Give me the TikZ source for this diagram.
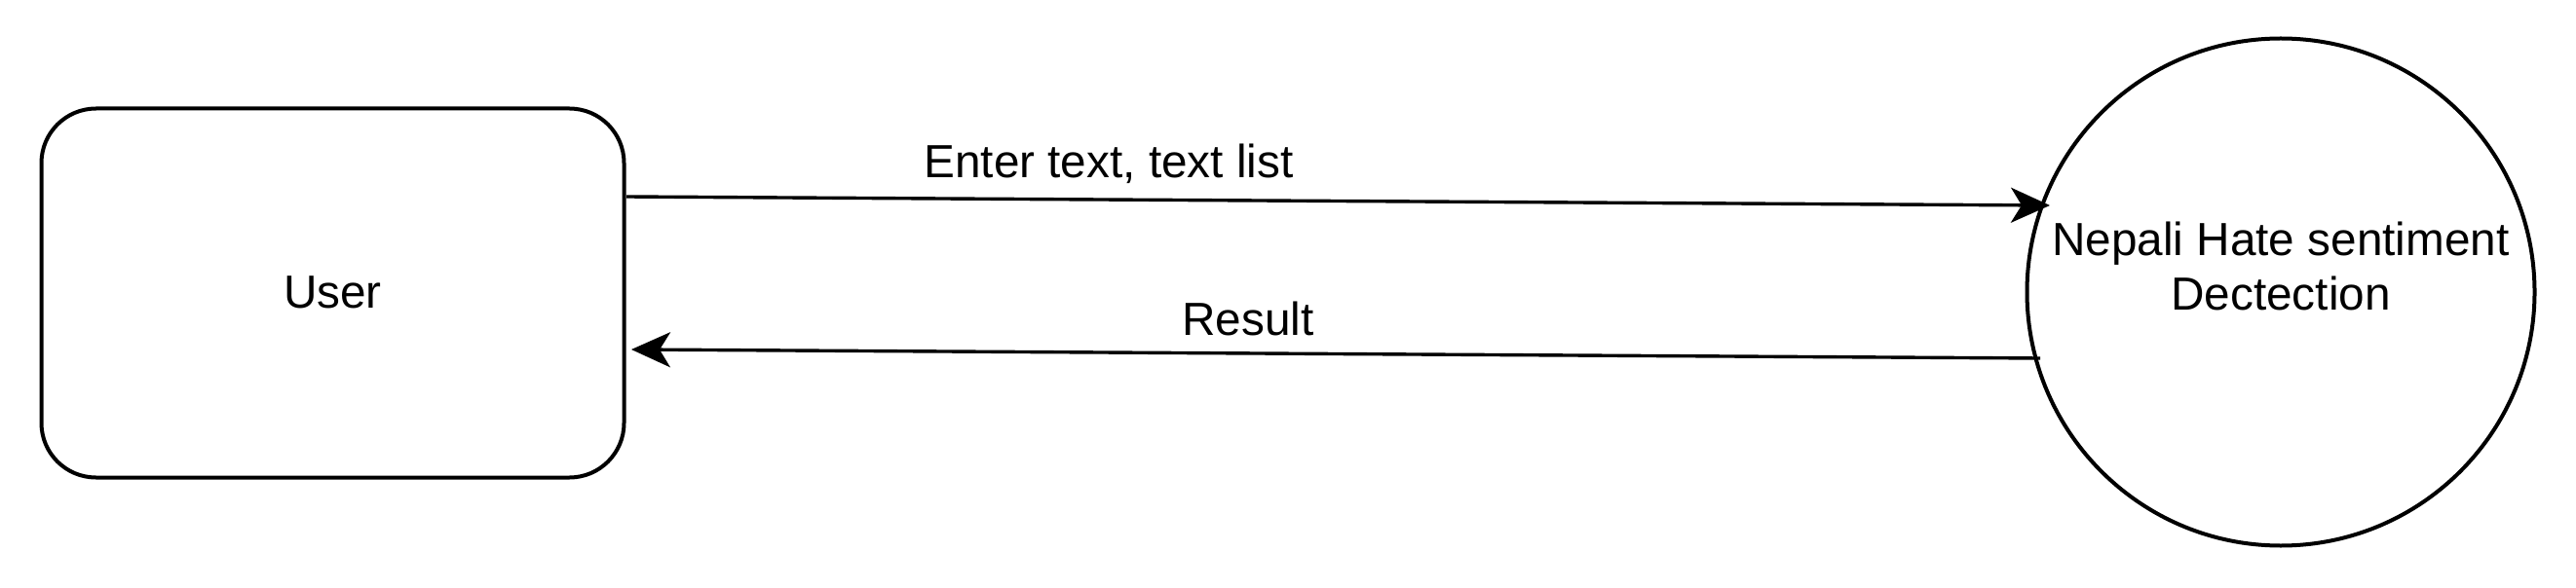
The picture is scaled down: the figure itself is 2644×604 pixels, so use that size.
\documentclass[tikz,border=0pt]{standalone}
\usepackage{fontspec}
\setmainfont{Liberation Sans}
\usetikzlibrary{arrows.meta}
\begin{document}
\begin{tikzpicture}[x=0.5pt,y=-0.5pt,
  every node/.style={font=\fontsize{23.85}{28}\selectfont, inner sep=0pt},
  userbox/.style={draw=black, line width=2pt, rounded corners=28pt, minimum width=299pt, minimum height=189.5pt, fill=white},
  procnode/.style={draw=black, line width=2pt, circle, minimum size=260.5pt},
  flow/.style={line width=1.7pt, -{Stealth[length=20pt,width=18pt,inset=5.5pt]}},
  lbl/.style={anchor=center, align=center}
]
\useasboundingbox (0,0) rectangle (2644,604);
\node[userbox] (user) at (341.5,301) {};
\node (usertxt) at (341.5,300) {User};
\node[procnode] (det) at (2341,300) {};
\node[lbl] (dettxt) at (2341,273) {Nepali Hate sentiment\\Dectection};
\coordinate (a1s) at (643,202);
\coordinate (a1e) at (2104,211);
\coordinate (a2s) at (2094,368);
\coordinate (a2e) at (648,359);
\draw[flow] (a1s) -- (a1e);
\draw[flow] (a2s) -- (a2e);
\node[lbl] (l1) at (1138,168) {Enter text, text list};
\node[lbl] (l2) at (1281,327) {Result};
\end{tikzpicture}
\end{document}
